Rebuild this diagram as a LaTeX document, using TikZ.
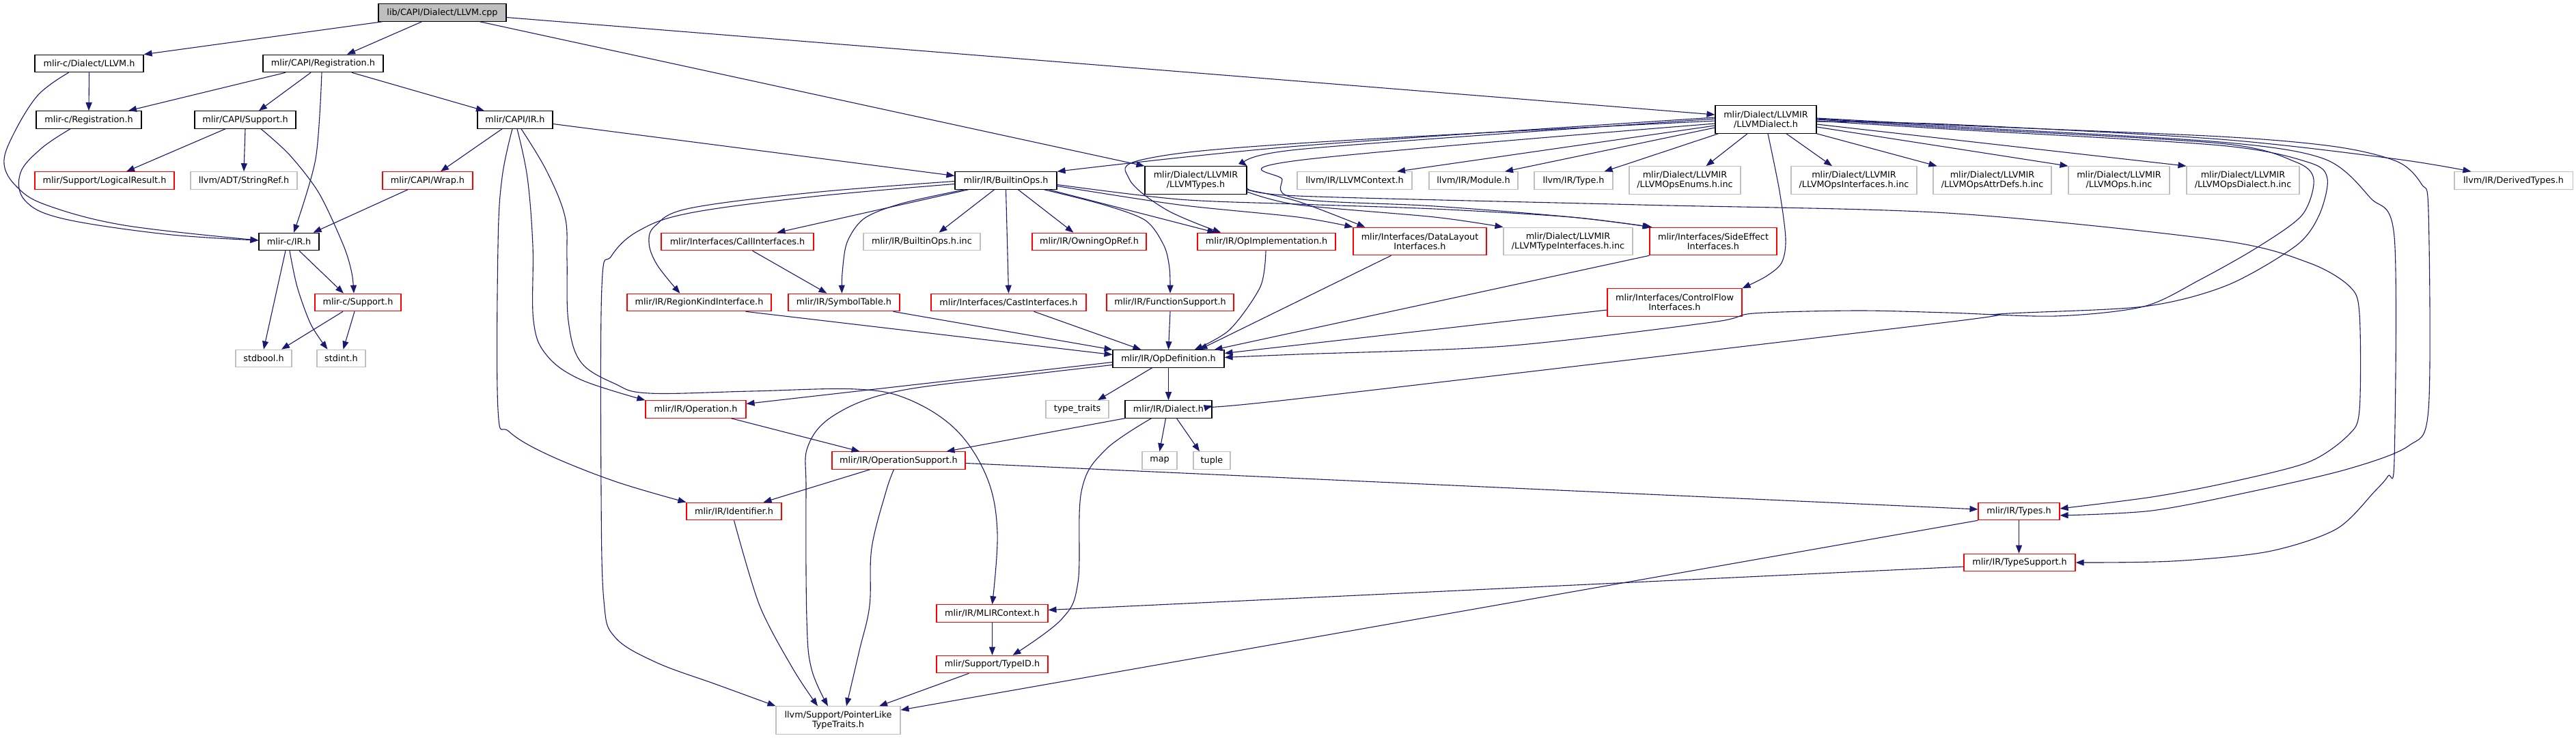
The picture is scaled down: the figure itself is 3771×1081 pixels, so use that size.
\documentclass[tikz,border=0pt]{standalone}
\usepackage{fontspec}
\setmainfont{DejaVu Sans}
\usetikzlibrary{arrows.meta,calc}
\definecolor{edgec}{HTML}{191970}
\definecolor{dgray}{HTML}{BFBFBF}
\definecolor{dred}{HTML}{FF0000}
\newcommand\dfont{\fontsize{12.8pt}{14pt}\selectfont}
\tikzset{
  box/.style={draw=black, line width=1.1pt, fill=white, minimum height=25.5pt, inner xsep=2pt, inner ysep=0pt, align=center, font=\dfont, text=black},
  redbox/.style={box, draw=dred},
  graybox/.style={box, draw=dgray},
  rootbox/.style={box, fill=dgray},
  twoline/.style={minimum height=40.5pt},
  edge/.style={draw=edgec, line width=1.1pt, -{Triangle[length=12pt,width=9pt]}},
}
\begin{document}
\begin{tikzpicture}[x=1pt,y=-1pt]
\useasboundingbox[fill=white] (0,0) rectangle (3771,1081);
% nodes
\node[rootbox, minimum width=187pt] (root) at (647.5,18.5) {lib/CAPI/Dialect/LLVM.cpp};
\node[box, minimum width=159pt] (cllvm) at (130.5,93) {mlir-c/Dialect/LLVM.h};
\node[box, minimum width=176pt] (capireg) at (473,93) {mlir/CAPI/Registration.h};
\node[box, minimum width=154pt] (creg) at (130,175.5) {mlir-c/Registration.h};
\node[box, minimum width=148pt] (capisup) at (359,175.5) {mlir/CAPI/Support.h};
\node[box, minimum width=110pt] (capiir) at (754,175.5) {mlir/CAPI/IR.h};
\node[box, twoline, minimum width=148pt] (llvmd) at (2585,175) {mlir/Dialect/LLVMIR\\/LLVMDialect.h};
\node[redbox, minimum width=204pt] (logres) at (153,264.5) {mlir/Support/LogicalResult.h};
\node[graybox, minimum width=156pt] (strref) at (357,264.5) {llvm/ADT/StringRef.h};
\node[redbox, minimum width=132pt] (wrap) at (626,264.5) {mlir/CAPI/Wrap.h};
\node[box, minimum width=149pt] (bops) at (1472.5,264.5) {mlir/IR/BuiltinOps.h};
\node[box, twoline, minimum width=149pt] (ltypes) at (1750.5,264) {mlir/Dialect/LLVMIR\\/LLVMTypes.h};
\node[graybox, minimum width=168pt] (llctx) at (1983,264.5) {llvm/IR/LLVMContext.h};
\node[graybox, minimum width=130pt] (module) at (2157,264.5) {llvm/IR/Module.h};
\node[graybox, minimum width=115pt] (type) at (2303.5,264.5) {llvm/IR/Type.h};
\node[graybox, twoline, minimum width=163pt] (enums) at (2466.5,264) {mlir/Dialect/LLVMIR\\/LLVMOpsEnums.h.inc};
\node[graybox, twoline, minimum width=184pt] (opsif) at (2714,264) {mlir/Dialect/LLVMIR\\/LLVMOpsInterfaces.h.inc};
\node[graybox, twoline, minimum width=173pt] (attrdefs) at (2916.5,264) {mlir/Dialect/LLVMIR\\/LLVMOpsAttrDefs.h.inc};
\node[graybox, twoline, minimum width=148pt] (lops) at (3102,264) {mlir/Dialect/LLVMIR\\/LLVMOps.h.inc};
\node[graybox, twoline, minimum width=165pt] (opsdial) at (3283.5,264) {mlir/Dialect/LLVMIR\\/LLVMOpsDialect.h.inc};
\node[graybox, minimum width=173pt] (derived) at (3679.5,264.5) {llvm/IR/DerivedTypes.h};
\node[box, minimum width=88pt] (cir) at (423,354) {mlir-c/IR.h};
\node[redbox, minimum width=126pt] (csup) at (524,443) {mlir-c/Support.h};
\node[graybox, minimum width=82pt] (stdbool) at (386,525) {stdbool.h};
\node[graybox, minimum width=71pt] (stdint) at (499.5,525) {stdint.h};
\node[redbox, minimum width=223pt] (callif) at (1079.5,354) {mlir/Interfaces/CallInterfaces.h};
\node[graybox, minimum width=171pt] (bopsinc) at (1349.5,354) {mlir/IR/BuiltinOps.h.inc};
\node[redbox, minimum width=167pt] (owning) at (1594.5,354) {mlir/IR/OwningOpRef.h};
\node[redbox, minimum width=202pt] (opimpl) at (1854,354) {mlir/IR/OpImplementation.h};
\node[redbox, twoline, minimum width=195pt] (datalayout) at (2078.5,353.5) {mlir/Interfaces/DataLayout\\Interfaces.h};
\node[graybox, twoline, minimum width=189pt] (typeif) at (2295.5,353.5) {mlir/Dialect/LLVMIR\\/LLVMTypeInterfaces.h.inc};
\node[redbox, twoline, minimum width=186pt] (sideeff) at (2508,353.5) {mlir/Interfaces/SideEffect\\Interfaces.h};
\node[redbox, minimum width=211pt] (regkind) at (1023.5,443) {mlir/IR/RegionKindInterface.h};
\node[redbox, minimum width=163pt] (symtab) at (1235.5,443) {mlir/IR/SymbolTable.h};
\node[redbox, minimum width=227pt] (castif) at (1476.5,443) {mlir/Interfaces/CastInterfaces.h};
\node[redbox, minimum width=186pt] (funcsup) at (1713,443) {mlir/IR/FunctionSupport.h};
\node[redbox, twoline, minimum width=197pt] (cflow) at (2451.5,443) {mlir/Interfaces/ControlFlow\\Interfaces.h};
\node[box, minimum width=163pt] (opdef) at (1710.5,525.5) {mlir/IR/OpDefinition.h};
\node[graybox, minimum width=92pt] (ttraits) at (1577,599.5) {type\_traits};
\node[box, minimum width=127pt] (dialect) at (1710.5,599.5) {mlir/IR/Dialect.h};
\node[redbox, minimum width=147pt] (operation) at (1018.5,599.5) {mlir/IR/Operation.h};
\node[graybox, minimum width=51pt] (map) at (1697.5,674.5) {map};
\node[graybox, minimum width=54pt] (tuple) at (1774,674.5) {tuple};
\node[redbox, minimum width=195pt] (opsup) at (1315.5,674.5) {mlir/IR/OperationSupport.h};
\node[redbox, minimum width=139pt] (ident) at (1074.5,749) {mlir/IR/Identifier.h};
\node[redbox, minimum width=119pt] (types) at (2955.5,749) {mlir/IR/Types.h};
\node[redbox, minimum width=163pt] (typesup) at (2956.5,824) {mlir/IR/TypeSupport.h};
\node[redbox, minimum width=163pt] (mlirctx) at (1452.5,898.5) {mlir/IR/MLIRContext.h};
\node[redbox, minimum width=163pt] (typeid) at (1452.5,973) {mlir/Support/TypeID.h};
\node[graybox, twoline, minimum width=182pt] (ptrlike) at (1227,1055) {llvm/Support/PointerLike\\TypeTraits.h};

% root edges
\draw[edge] ($(root.south west)+(6,0)$) -- (cllvm.north east);
\draw[edge] ($(root.south)+(-30,0)$) -- ($(capireg.north)+(35,0)$);
\draw[edge] ($(root.south)+(55,0)$) -- (ltypes.north west);
\draw[edge] ($(root.east)+(0,7)$) -- ($(llvmd.west)+(0,-7)$);
% cllvm
\draw[edge] (cllvm.south) -- (creg.north);
\draw[edge] plot[smooth,tension=.6] coordinates {($(cllvm.south)+(-30,0)$) (55,140) (18,200) (6,240) (24,273) (67,300) (182,330) ($(cir.west)+(0,-2)$)};
% capireg
\draw[edge] ($(capireg.south)+(-55,0)$) -- ($(creg.north)+(58,0)$);
\draw[edge] ($(capireg.south)+(-18,0)$) -- ($(capisup.north)+(20,0)$);
\draw[edge] plot[smooth] coordinates {($(capireg.south)+(-2,0)$) (462,233) ($(cir.north)+(7,0)$)};
\draw[edge] ($(capireg.south)+(42,0)$) -- ($(capiir.north)+(-45,0)$);
% creg
\draw[edge] plot[smooth,tension=.6] coordinates {($(creg.south)+(-27,0)$) (61,217) (30,253) (36,293) (91,320) (242,343) ($(cir.west)+(0,-2)$)};
% capisup
\draw[edge] ($(capisup.south)+(-29,0)$) -- ($(logres.north)+(32,0)$);
\draw[edge] (capisup.south) -- (strref.north);
\draw[edge] plot[smooth] coordinates {($(capisup.south)+(23,0)$) (424,227) (467,283) (503,360) (515,400) ($(csup.north)+(-6,0)$)};
% capiir
\draw[edge] ($(capiir.south)+(-19,0)$) -- ($(wrap.north)+(19,0)$);
\draw[edge] ($(capiir.east)+(0,6)$) -- ($(bops.west)+(0,-7)$);
\draw[edge] plot[smooth,tension=.6] coordinates {($(capiir.south)+(3,0)$) (772,260) (780,360) (781,470) (800,520) (850,556) (operation.north west)};
\draw[edge] plot[smooth,tension=.6] coordinates {($(capiir.south)+(-4,0)$) (735,260) (729,360) (729,600) (745,632) (800,665) (900,705) (ident.north west)};
\draw[edge] plot[smooth,tension=.6] coordinates {($(capiir.south)+(9,0)$) (800,250) (827,317) (830,380) (832,470) (850,530) (900,562) (950,576) (1100,573) (1253,570) (1330,585) (1400,630) (1445,700) (1460,780) (mlirctx.north)};
% wrap
\draw[edge] ($(wrap.south)+(-29,0)$) -- ($(cir.north east)+(-9,0)$);
% cir
\draw[edge] ($(cir.south)+(-5,0)$) -- (stdbool.north);
\draw[edge] plot[smooth] coordinates {($(cir.south)+(1,0)$) (435,420) (455,475) ($(stdint.north)+(-20,0)$)};
\draw[edge] ($(cir.south)+(15,0)$) -- ($(csup.north)+(-21,0)$);
% csup
\draw[edge] ($(csup.south)+(-22,0)$) -- ($(stdbool.north)+(26,0)$);
\draw[edge] ($(csup.south)+(-5,0)$) -- ($(stdint.north)+(3,0)$);
% bops
\draw[edge] plot[smooth,tension=.6] coordinates {($(bops.west)+(0,1)$) (1190,282) (1010,305) (960,330) (950,355) (962,388) ($(regkind.north)+(-28,0)$)};
\draw[edge] plot[smooth,tension=.6] coordinates {($(bops.west)+(0,5)$) (1190,288) (1010,312) (935,338) (895,375) (881,420) (880,720) (884,880) (900,933) (960,970) (1050,1003) (ptrlike.north west)};
\draw[edge] ($(bops.south)+(-55,0)$) -- ($(callif.north)+(58,0)$);
\draw[edge] plot[smooth] coordinates {($(bops.south)+(-61,0)$) (1320,298) (1265,320) (1240,355) (1233,400) ($(symtab.north)+(-3,0)$)};
\draw[edge] ($(bops.south)+(-17,0)$) -- ($(bopsinc.north)+(25,0)$);
\draw[edge] (bops.south) -- (castif.north);
\draw[edge] ($(bops.south)+(18,0)$) -- ($(owning.north)+(-23,0)$);
\draw[edge] plot[smooth] coordinates {($(bops.south)+(56,0)$) (1616,300) (1677,323) (1704,360) (1712,393) (funcsup.north)};
\draw[edge] ($(bops.south east)+(-12,0)$) -- ($(opimpl.north west)+(27,0)$);
\draw[edge] plot[smooth] coordinates {($(bops.east)+(0,8)$) (1726,300) (1900,318) (datalayout.north west)};
\draw[edge] plot[smooth] coordinates {($(bops.east)+(0,6)$) (1726,292) (1900,299) (2100,306) (2300,318) ($(sideeff.north west)+(2,0)$)};
% ltypes
\draw[edge] plot[smooth] coordinates {($(ltypes.east)+(0,14)$) (1900,295) ($(datalayout.north west)+(18,0)$)};
\draw[edge] plot[smooth] coordinates {($(ltypes.east)+(0,17)$) (1900,300) (2100,318) (typeif.north west)};
\draw[edge] plot[smooth,tension=.5] coordinates {($(ltypes.east)+(0,11)$) (1900,287) (2400,300) (2850,312) (3250,352) (3380,385) (3440,420) (3454,460) (3454,600) (3438,637) (3379,677) (3261,707) (3150,728) ($(types.east)+(0,-4)$)};
% llvmd
\draw[edge] plot[smooth] coordinates {($(llvmd.west)+(0,-3)$) (1900,214) (bops.north east)};
\draw[edge] plot[smooth] coordinates {($(llvmd.west)+(0,-1)$) (1900,219) (ltypes.north east)};
\draw[edge] plot[smooth,tension=.6] coordinates {($(llvmd.west)+(0,2)$) (1900,210) (1676,233) (1653,262) (1707,307) ($(opimpl.north west)+(35,0)$)};
\draw[edge] plot[smooth,tension=.6] coordinates {($(llvmd.west)+(0,6)$) (1900,235) (1877,263) (1900,291) (2100,302) (2300,318) ($(sideeff.north west)+(4,0)$)};
\draw[edge] ($(llvmd.west)+(0,9)$) -- ($(llctx.north)+(62,0)$);
\draw[edge] ($(llvmd.west)+(0,12)$) -- ($(module.north)+(46,0)$);
\draw[edge] ($(llvmd.south west)+(5,0)$) -- ($(type.north)+(45,0)$);
\draw[edge] ($(llvmd.south)+(-27,0)$) -- ($(enums.north)+(31,0)$);
\draw[edge] plot[smooth] coordinates {($(llvmd.south)+(3,0)$) (2605,280) (2614,350) (2608,385) (2585,405) (cflow.north east)};
\draw[edge] ($(llvmd.south)+(30,0)$) -- ($(opsif.north)+(-32,0)$);
\draw[edge] (llvmd.south east) -- ($(attrdefs.north west)+(6,0)$);
\draw[edge] ($(llvmd.east)+(0,11)$) -- (lops.north west);
\draw[edge] ($(llvmd.east)+(0,7)$) -- (opsdial.north west);
\draw[edge] plot[smooth] coordinates {($(llvmd.east)+(0,3)$) (2850,182) (3250,204) (3508,233) ($(derived.north west)+(25,0)$)};
\draw[edge] plot[smooth,tension=.5] coordinates {($(llvmd.east)+(0,-2)$) (2850,183) (3250,200) (3420,215) (3510,237) (3545,270) (3555,310) (3555,600) (3526,653) (3437,687) (3296,720) (3150,748) ($(types.east)+(0,6)$)};
\draw[edge] plot[smooth,tension=.5] coordinates {($(llvmd.east)+(0,-1)$) (2850,185) (3250,208) (3403,233) (3470,290) (3505,347) (3505,673) (3496,697) (3476,720) (3420,775) (3320,808) (3180,822) (typesup.east)};
\draw[edge] plot[smooth,tension=.5] coordinates {($(llvmd.east)+(0,0)$) (2850,187) (3250,210) (3360,237) (3387,263) (3370,315) (3305,362) (3220,410) (3138,449) (3009,463) (2850,458) (2718,455) (2567,459) (2506,472) (2203,507) (1900,519) ($(opdef.east)+(0,-2)$)};
\draw[edge] plot[smooth,tension=.5] coordinates {($(llvmd.east)+(0,2)$) (2850,189) (3250,213) (3380,238) (3407,262) (3395,315) (3361,360) (3260,418) (3138,449) (2926,460) (2850,472) (1900,584) ($(dialect.east)+(0,-5)$)};
% interfaces -> opdef
\draw[edge] (sideeff.south west) -- ($(opdef.north east)+(-15,0)$);
\draw[edge] ($(datalayout.south)+(-42,0)$) -- ($(opdef.north)+(45,0)$);
\draw[edge] ($(cflow.west)+(0,11)$) -- ($(opdef.east)+(0,-8)$);
\draw[edge] plot[smooth] coordinates {($(opimpl.south)+(-1,0)$) (1845,420) (1800,483) ($(opdef.north)+(38,0)$)};
\draw[edge] ($(regkind.south)+(68,0)$) -- ($(opdef.west)+(0,-6)$);
\draw[edge] ($(symtab.south)+(72,0)$) -- (opdef.north west);
\draw[edge] ($(castif.south)+(37,0)$) -- ($(opdef.north west)+(42,0)$);
\draw[edge] (funcsup.south) -- (opdef.north);
\draw[edge] ($(callif.south)+(22,0)$) -- ($(symtab.north)+(-25,0)$);
% opdef
\draw[edge] ($(opdef.south)+(-24,0)$) -- ($(ttraits.north)+(30,0)$);
\draw[edge] (opdef.south) -- (dialect.north);
\draw[edge] ($(opdef.west)+(0,5)$) -- ($(operation.east)+(0,-8)$);
\draw[edge] plot[smooth,tension=.6] coordinates {($(opdef.west)+(0,9)$) (1495,550) (1314,573) (1223,607) (1183,653) (1180,720) (1181,907) (1188,980) ($(ptrlike.north)+(-15,0)$)};
% dialect
\draw[edge] (dialect.south west) -- ($(opsup.north)+(70,0)$);
\draw[edge] ($(dialect.south)+(-4,0)$) -- (map.north);
\draw[edge] ($(dialect.south)+(12,0)$) -- ($(tuple.north)+(-18,0)$);
\draw[edge] plot[smooth,tension=.6] coordinates {($(dialect.south)+(-25,0)$) (1617,660) (1583,720) (1578,853) (1554,907) ($(typeid.north)+(30,0)$)};
% operation / opsup
\draw[edge] ($(operation.south)+(52,0)$) -- ($(opsup.north)+(-57,0)$);
\draw[edge] ($(opsup.south)+(-42,0)$) -- ($(ident.north)+(43,0)$);
\draw[edge] plot[smooth,tension=.6] coordinates {($(opsup.south)+(-7,0)$) (1297,720) (1276,803) (1273,887) (1258,953) ($(ptrlike.north)+(12,0)$)};
\draw[edge] ($(opsup.east)+(0,4)$) -- ($(types.west)+(0,-3)$);
% lower
\draw[edge] plot[smooth] coordinates {(ident.south) (1112,887) (1161,980) ($(ptrlike.north)+(-30,0)$)};
\draw[edge] (types.south west) -- ($(ptrlike.east)+(0,-15)$);
\draw[edge] (types.south) -- ($(typesup.north)+(-1,0)$);
\draw[edge] ($(typesup.west)+(0,6)$) -- ($(mlirctx.east)+(0,-5)$);
\draw[edge] (mlirctx.south) -- (typeid.north);
\draw[edge] ($(typeid.south)+(-34,0)$) -- ($(ptrlike.north)+(60,0)$);
\end{tikzpicture}
\end{document}
